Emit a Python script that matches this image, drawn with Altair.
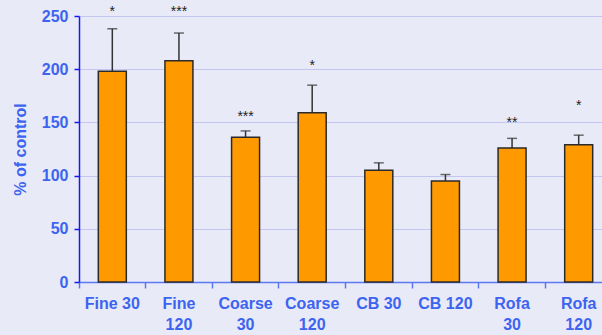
import altair as alt
import pandas as pd

categories = ["Fine 30", "Fine\n120", "Coarse\n30", "Coarse\n120", "CB 30", "CB 120", "Rofa\n30", "Rofa\n120"]
means = [198, 208, 136, 159, 105, 95, 126, 129]
err_top = [238, 234, 142, 185, 112, 101, 135, 138]
stars = ["*", "***", "***", "*", "", "", "**", "*"]
star_y = [254, 254, 155, 203, 0, 0, 149, 165]

df = pd.DataFrame({"cat": categories, "mean": means, "err": err_top, "star": stars, "sy": star_y})

FONT = "Liberation Sans"
BLUE = "#3c64f0"

xscale = alt.Scale(domain=categories, range=[0, 533], paddingInner=0, paddingOuter=0)
yscale = alt.Scale(domain=[0, 250])

yaxis = alt.Axis(values=[0, 50, 100, 150, 200, 250], grid=True, gridColor="#c4c6f2", gridWidth=1,
                 domainColor="#1818ee", domainWidth=1.5, tickColor="#1818ee", tickSize=5, tickWidth=1.5,
                 labelColor=BLUE, labelFont=FONT, labelFontSize=16, labelFontWeight="bold", labelPadding=6,
                 title="% of control", titleColor=BLUE, titleFont=FONT, titleFontSize=16, titleFontWeight="bold",
                 titleX=-59, titleY=133, titleAlign="center", titleBaseline="middle", titleAngle=-90)

label_axis = alt.Axis(orient="bottom", ticks=False, tickSize=0, domain=False, grid=False, labelAngle=0,
                      labelExpr="split(datum.label, '\\n')", labelColor=BLUE, labelFont=FONT, labelFontSize=16,
                      labelFontWeight="bold", labelPadding=13, labelLineHeight=21, title=None)
tick_axis = alt.Axis(orient="bottom", labels=False, ticks=True, tickSize=6, tickWidth=1.5, tickColor="#5a78f0",
                     bandPosition=0, domain=True, domainColor="#5a78f0", domainWidth=1.5, grid=False, title=None)

base = alt.Chart(df)

rule = base.mark_rule(color="#333333", strokeWidth=1.5).encode(
    x=alt.X("cat:N", scale=xscale, axis=tick_axis, sort=categories),
    y=alt.Y("mean:Q", scale=yscale, axis=yaxis),
    y2="err:Q",
)
bars = base.mark_bar(size=28, color="#ff9900", stroke="#2a2a2a", strokeWidth=1.5).encode(
    x=alt.X("cat:N", scale=xscale, axis=label_axis, sort=categories),
    y=alt.Y("mean:Q", scale=yscale, axis=yaxis),
)
cap = base.mark_tick(color="#333333", thickness=1.5, size=10).encode(
    x=alt.X("cat:N", scale=xscale, axis=None, sort=categories),
    y=alt.Y("err:Q", scale=yscale, axis=yaxis),
)
txt = base.mark_text(fontSize=14, color="#222222", baseline="middle", font=FONT).encode(
    x=alt.X("cat:N", scale=xscale, axis=None, sort=categories),
    y=alt.Y("sy:Q", scale=yscale, axis=yaxis),
    text="star:N",
)

chart = alt.layer(rule, bars, cap, txt).resolve_axis(x="independent").properties(
    width=523, height=266,
    autosize=alt.AutoSizeParams(type="none"),
    padding={"left": 79, "top": 16, "right": 0, "bottom": 53},
    background="#e9eaf7",
).configure_view(stroke=None)

chart.save("out.html", embed_options={"renderer": "svg", "actions": False})
